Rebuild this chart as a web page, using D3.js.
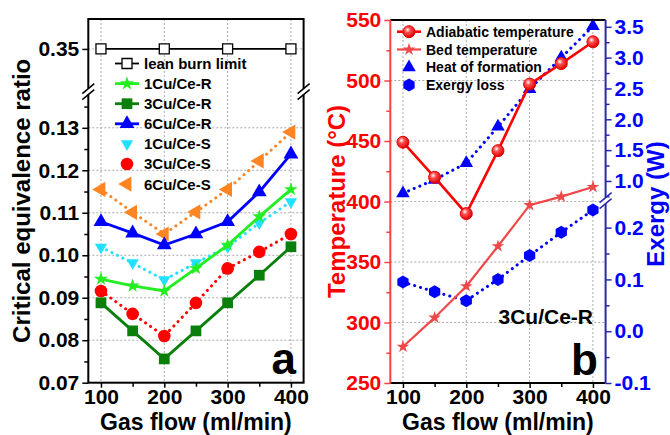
<!DOCTYPE html>
<html>
<head>
<meta charset="utf-8">
<script src="https://cdn.jsdelivr.net/npm/d3@7"></script>
<style>
  body { margin: 0; background: #fff; }
  svg { display: block; font-family: Arial, "Liberation Sans", sans-serif; font-weight: bold; }
</style>
</head>
<body>
<svg id="chart" width="670" height="435"></svg>
<script>
// ---- data, panel a ----
const gasFlow = [100, 150, 200, 250, 300, 350, 400];
const leanFlow = [100, 200, 300, 400];
const leanBurn = [0.35, 0.35, 0.35, 0.35];
const cu1R = [0.0944, 0.0928, 0.0916, 0.0969, 0.1024, 0.1091, 0.1155];
const cu3R = [0.0888, 0.0822, 0.0756, 0.0822, 0.0888, 0.0953, 0.1020];
const cu6R = [0.1079, 0.1052, 0.1024, 0.1050, 0.1079, 0.1149, 0.1238];
const cu1S = [0.1019, 0.0982, 0.0942, 0.0982, 0.1020, 0.1076, 0.1126];
const cu3S = [0.0916, 0.0862, 0.0810, 0.0888, 0.0969, 0.1008, 0.1050];
const cu6S = [0.1155, 0.1101, 0.1050, 0.1102, 0.1155, 0.1222, 0.1290];
const xTicks = [100, 200, 300, 400];
const yTicksLow = [0.07, 0.08, 0.09, 0.10, 0.11, 0.12, 0.13];
const yTicksTop = [0.35];

// ---- data, panel b (3Cu/Ce-R) ----
const adiabatic = [449, 420, 390, 442, 497, 514, 532];
const bedTemp = [280, 304, 330, 363, 397, 404, 412];
const heatForm = [0.80, 1.02, 1.29, 1.88, 2.49, 3.00, 3.51];
const exergyLoss = [0.095, 0.076, 0.059, 0.100, 0.146, 0.191, 0.234];
const tempTicks = [250, 300, 350, 400, 450, 500, 550];
const heatTicks = [1.0, 1.5, 2.0, 2.5, 3.0, 3.5];
const exTicks = [-0.1, 0.0, 0.1, 0.2];

const svg = d3.select('#chart');
const defs = svg.append('defs');
const grad = defs.append('radialGradient').attr('id', 'ball')
  .attr('cx', '38%').attr('cy', '35%').attr('r', '65%');
grad.append('stop').attr('offset', '0%').attr('stop-color', '#ffffff');
grad.append('stop').attr('offset', '35%').attr('stop-color', '#ff5050');
grad.append('stop').attr('offset', '100%').attr('stop-color', '#e00000');

// custom hexagon symbol
const symbolHexagon = {
  draw(ctx, size) {
    const r = Math.sqrt(size / (1.5 * Math.sqrt(3)));
    for (let i = 0; i < 6; i++) {
      const a = -Math.PI / 2 + i * Math.PI / 3;
      if (i === 0) ctx.moveTo(r * Math.cos(a), r * Math.sin(a));
      else ctx.lineTo(r * Math.cos(a), r * Math.sin(a));
    }
    ctx.closePath();
  }
};

function marker(g, x, y, s) {
  if (s.ball) {
    g.append('circle').attr('cx', x).attr('cy', y).attr('r', s.r)
      .attr('fill', 'url(#ball)').attr('stroke', '#e00000').attr('stroke-width', 1);
    return;
  }
  if (s.circle) {
    g.append('circle').attr('cx', x).attr('cy', y).attr('r', s.r).attr('fill', s.color);
    return;
  }
  g.append('path')
    .attr('d', d3.symbol().type(s.symbol).size(s.size)())
    .attr('transform', `translate(${x},${y}) rotate(${s.rot || 0})`)
    .attr('fill', s.fill || s.color)
    .attr('stroke', s.stroke || 'none')
    .attr('stroke-width', s.strokeWidth || 0);
}

function drawSeries(g, xs, ys, xScale, yScale, s) {
  const line = d3.line().x((d, i) => xScale(xs[i])).y(d => yScale(d));
  const p = g.append('path').datum(ys).attr('d', line)
    .attr('fill', 'none').attr('stroke', s.lineColor || s.color)
    .attr('stroke-width', s.width);
  if (s.dotted) p.attr('stroke-dasharray', '0.1 6').attr('stroke-linecap', 'round');
  ys.forEach((v, i) => marker(g, xScale(xs[i]), yScale(v), s));
}

function legendRow(g, x0, y, s, label, fontSize) {
  if (!s.dotted) {
    g.append('line').attr('x1', x0 - 12).attr('x2', x0 + 12).attr('y1', y).attr('y2', y)
      .attr('stroke', s.lineColor || s.color).attr('stroke-width', s.width);
  }
  marker(g, x0, y, s);
  g.append('text').attr('x', x0 + 17).attr('y', y).attr('dy', '0.36em')
    .attr('font-size', fontSize).text(label);
}

function grid(g, xs, ys, x0, x1, y0, y1) {
  xs.forEach(v => g.append('line').attr('x1', v).attr('x2', v).attr('y1', y0).attr('y2', y1)
    .attr('stroke', '#aaa').attr('stroke-width', 1).attr('stroke-dasharray', '2 2'));
  ys.forEach(v => g.append('line').attr('x1', x0).attr('x2', x1).attr('y1', v).attr('y2', v)
    .attr('stroke', '#aaa').attr('stroke-width', 1).attr('stroke-dasharray', '2 2'));
}

function styleAxis(ax, color, fontSize) {
  ax.select('.domain').remove();
  ax.selectAll('line').attr('stroke', color).attr('stroke-width', 1.5);
  ax.selectAll('text').attr('fill', color).attr('font-size', fontSize)
    .attr('font-family', 'Arial, "Liberation Sans", sans-serif').attr('font-weight', 'bold');
}

function minorAxis(g, axisFn, scale, values, color) {
  const ax = g.append('g').call(axisFn(scale).tickValues(values).tickSize(4).tickFormat(''));
  ax.select('.domain').remove();
  ax.selectAll('line').attr('stroke', color).attr('stroke-width', 1.5);
  return ax;
}

function breakMark(g, x, y, color) {
  g.append('rect').attr('x', x - 3).attr('y', y - 3).attr('width', 6).attr('height', 6).attr('fill', '#fff');
  [-3, 3].forEach(o => g.append('line')
    .attr('x1', x - 6).attr('x2', x + 6).attr('y1', y + o + 5).attr('y2', y + o - 5)
    .attr('stroke', color).attr('stroke-width', 1.5));
}

// ================= panel a =================
const A = { left: 88.3, right: 303.6, top: 19, bottom: 382.7, brk: 91.7 };
const xA = d3.scaleLinear().domain([80, 420]).range([A.left, A.right]);
const yLow = d3.scaleLinear().domain([0.07, 0.1385]).range([A.bottom, A.brk]);
const yTop = d3.scaleLinear().domain([0.34, 0.357]).range([A.brk, A.top]);

const ga = svg.append('g');
grid(ga, xTicks.map(xA), yTicksLow.slice(1).map(yLow).concat(yTicksTop.map(yTop)),
  A.left, A.right, A.top, A.bottom);

const styleA = {
  lean: { color: '#000', fill: '#fff', stroke: '#000', strokeWidth: 1.3, symbol: d3.symbolSquare, size: 100, width: 1.8 },
  cu1R: { color: '#22ee22', symbol: d3.symbolStar, size: 60, width: 2.8 },
  cu3R: { color: '#0a7f0a', symbol: d3.symbolSquare, size: 115, width: 2.8 },
  cu6R: { color: '#0000ff', symbol: d3.symbolTriangle, size: 95, width: 2.8 },
  cu1S: { color: '#22e0ff', symbol: d3.symbolTriangle, size: 65, rot: 180, width: 3, dotted: true },
  cu3S: { color: '#ff0000', circle: true, r: 6.3, width: 3, dotted: true },
  cu6S: { color: '#ff8522', symbol: d3.symbolTriangle, size: 100, rot: -90, width: 3, dotted: true }
};

drawSeries(ga, gasFlow, cu6S, xA, yLow, styleA.cu6S);
drawSeries(ga, gasFlow, cu1S, xA, yLow, styleA.cu1S);
drawSeries(ga, gasFlow, cu3S, xA, yLow, styleA.cu3S);
drawSeries(ga, gasFlow, cu6R, xA, yLow, styleA.cu6R);
drawSeries(ga, gasFlow, cu1R, xA, yLow, styleA.cu1R);
drawSeries(ga, gasFlow, cu3R, xA, yLow, styleA.cu3R);
drawSeries(ga, leanFlow, leanBurn, xA, yTop, styleA.lean);

// frame
ga.append('rect').attr('x', A.left).attr('y', A.top)
  .attr('width', A.right - A.left).attr('height', A.bottom - A.top)
  .attr('fill', 'none').attr('stroke', '#000').attr('stroke-width', 2);

// axes
const axBA = ga.append('g').attr('transform', `translate(0,${A.bottom})`)
  .call(d3.axisBottom(xA).tickValues(xTicks).tickSize(5).tickPadding(1).tickFormat(d3.format('d')));
styleAxis(axBA, '#000', 21);
ga.append('g').attr('transform', `translate(0,${A.bottom})`)
  .call(g => minorAxis(g, d3.axisBottom, xA, [150, 250, 350], '#000'));
const axLA = ga.append('g').attr('transform', `translate(${A.left},0)`)
  .call(d3.axisLeft(yLow).tickValues(yTicksLow).tickSize(6).tickPadding(3).tickFormat(d3.format('.2f')));
styleAxis(axLA, '#000', 21);
ga.append('g').attr('transform', `translate(${A.left},0)`)
  .call(g => minorAxis(g, d3.axisLeft, yLow, [0.075, 0.085, 0.095, 0.105, 0.115, 0.125, 0.135], '#000'));
const axTA = ga.append('g').attr('transform', `translate(${A.left},0)`)
  .call(d3.axisLeft(yTop).tickValues(yTicksTop).tickSize(6).tickPadding(3).tickFormat(d3.format('.2f')));
styleAxis(axTA, '#000', 21);
breakMark(ga, A.left, A.brk, '#000');
breakMark(ga, A.right, A.brk, '#000');

// legend a
const legA = ga.append('g');
const legARows = [
  ['lean', 'lean burn limit'], ['cu1R', '1Cu/Ce-R'], ['cu3R', '3Cu/Ce-R'], ['cu6R', '6Cu/Ce-R'],
  ['cu1S', '1Cu/Ce-S'], ['cu3S', '3Cu/Ce-S'], ['cu6S', '6Cu/Ce-S']
];
legARows.forEach((r, i) => legendRow(legA, 127, 63.5 + i * 20.1, styleA[r[0]], r[1], 15));

ga.append('text').attr('x', 296).attr('y', 374).attr('text-anchor', 'end')
  .attr('font-size', 44).text('a');
ga.append('text').attr('x', (A.left + A.right) / 2).attr('y', 429.5).attr('text-anchor', 'middle')
  .attr('font-size', 23).text('Gas flow (ml/min)');
ga.append('text').attr('transform', `translate(30,${(A.top + A.bottom) / 2}) rotate(-90)`)
  .attr('text-anchor', 'middle').attr('font-size', 24).text('Critical equivalence ratio');

// ================= panel b =================
const B = { left: 390.3, right: 605.6, top: 20, bottom: 383, brk: 200.7 };
const xB = d3.scaleLinear().domain([80, 420]).range([B.left, B.right]);
const yT = d3.scaleLinear().domain([250, 550]).range([B.bottom, B.top]);
const yHeat = d3.scaleLinear().domain([0.68, 3.61]).range([B.brk, B.top]);
const yEx = d3.scaleLinear().domain([-0.1, 0.252]).range([B.bottom, B.brk]);

const gb = svg.append('g');
grid(gb, xTicks.map(xB), tempTicks.slice(1, -1).map(yT), B.left, B.right, B.top, B.bottom);

const styleB = {
  adia: { color: '#ff0000', ball: true, r: 6, width: 2.6 },
  bed: { color: '#f04848', symbol: d3.symbolStar, size: 50, width: 2.2 },
  heat: { color: '#0000ff', symbol: d3.symbolTriangle, size: 80, width: 3, dotted: true },
  exergy: { color: '#0000ff', symbol: symbolHexagon, size: 110, width: 3, dotted: true }
};

drawSeries(gb, gasFlow, exergyLoss, xB, yEx, styleB.exergy);
drawSeries(gb, gasFlow, heatForm, xB, yHeat, styleB.heat);
drawSeries(gb, gasFlow, bedTemp, xB, yT, styleB.bed);
drawSeries(gb, gasFlow, adiabatic, xB, yT, styleB.adia);

// frame pieces
const edge = (x1, y1, x2, y2, c) => gb.append('line').attr('x1', x1).attr('y1', y1)
  .attr('x2', x2).attr('y2', y2).attr('stroke', c).attr('stroke-width', 2);
edge(B.left, B.top, B.right, B.top, '#000');
edge(B.left, B.bottom, B.right, B.bottom, '#000');
edge(B.left, B.top, B.left, B.bottom, '#ff4040');
edge(B.right, B.top, B.right, B.bottom, '#2a2aa8');

const axBB = gb.append('g').attr('transform', `translate(0,${B.bottom})`)
  .call(d3.axisBottom(xB).tickValues(xTicks).tickSize(5).tickPadding(1).tickFormat(d3.format('d')));
styleAxis(axBB, '#000', 21);
gb.append('g').attr('transform', `translate(0,${B.bottom})`)
  .call(g => minorAxis(g, d3.axisBottom, xB, [150, 250, 350], '#000'));

const axLB = gb.append('g').attr('transform', `translate(${B.left},0)`)
  .call(d3.axisLeft(yT).tickValues(tempTicks).tickSize(6).tickPadding(3).tickFormat(d3.format('d')));
styleAxis(axLB, '#ff0000', 21);
axLB.selectAll('line').attr('stroke', '#ff4040');
gb.append('g').attr('transform', `translate(${B.left},0)`)
  .call(g => minorAxis(g, d3.axisLeft, yT, [275, 325, 375, 425, 475, 525], '#ff4040'));

const axRH = gb.append('g').attr('transform', `translate(${B.right},0)`)
  .call(d3.axisRight(yHeat).tickValues(heatTicks).tickSize(6).tickPadding(3).tickFormat(d3.format('.1f')));
styleAxis(axRH, '#0000ff', 21);
axRH.selectAll('line').attr('stroke', '#2a2aa8');
gb.append('g').attr('transform', `translate(${B.right},0)`)
  .call(g => minorAxis(g, d3.axisRight, yHeat, [0.75, 1.25, 1.75, 2.25, 2.75, 3.25], '#2a2aa8'));

const axRE = gb.append('g').attr('transform', `translate(${B.right},0)`)
  .call(d3.axisRight(yEx).tickValues(exTicks).tickSize(6).tickPadding(3).tickFormat(d3.format('.1f')));
styleAxis(axRE, '#0000ff', 21);
axRE.selectAll('line').attr('stroke', '#2a2aa8');
axRE.selectAll('text').text(d => d3.format('.1f')(d).replace('−', '-'));
gb.append('g').attr('transform', `translate(${B.right},0)`)
  .call(g => minorAxis(g, d3.axisRight, yEx, [-0.05, 0.05, 0.15], '#2a2aa8'));
breakMark(gb, B.right, B.brk, '#2a2aa8');

// legend b
const legB = gb.append('g');
[['adia', 'Adiabatic temperature'], ['bed', 'Bed temperature'],
 ['heat', 'Heat of formation'], ['exergy', 'Exergy loss']]
  .forEach((r, i) => legendRow(legB, 409, 31.7 + i * 17.8, styleB[r[0]], r[1], 14));

gb.append('text').attr('x', 593).attr('y', 324).attr('text-anchor', 'end')
  .attr('font-size', 21).text('3Cu/Ce-R');
gb.append('text').attr('x', 598).attr('y', 375).attr('text-anchor', 'end')
  .attr('font-size', 44).text('b');
gb.append('text').attr('x', (B.left + B.right) / 2).attr('y', 429.5).attr('text-anchor', 'middle')
  .attr('font-size', 23).text('Gas flow (ml/min)');
gb.append('text').attr('transform', `translate(345,${(B.top + B.bottom) / 2}) rotate(-90)`)
  .attr('text-anchor', 'middle').attr('font-size', 24).attr('fill', '#ff0000').text('Temperature (°C)');
gb.append('text').attr('transform', `translate(664,204) rotate(-90)`)
  .attr('text-anchor', 'middle').attr('font-size', 24).attr('fill', '#0000ff').text('Exergy (W)');
</script>
</body>
</html>
